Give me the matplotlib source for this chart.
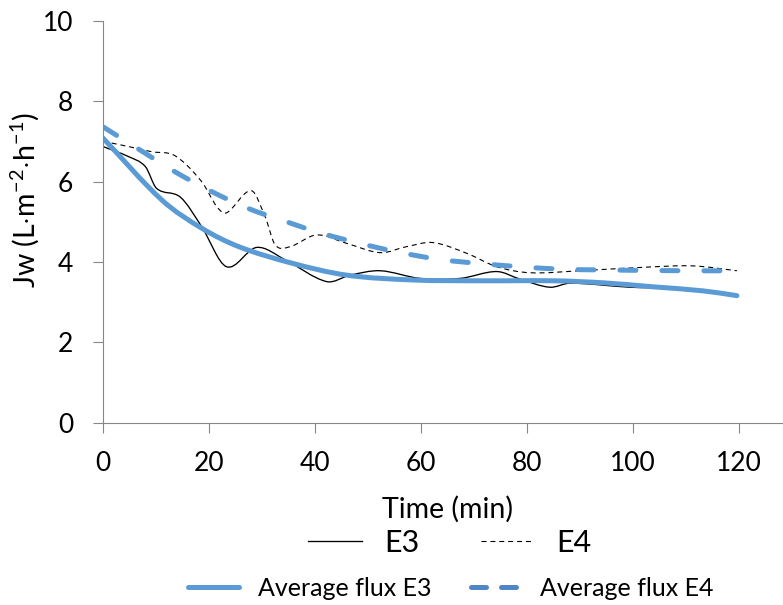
import numpy as np
import matplotlib
matplotlib.use('Agg')
import matplotlib.pyplot as plt
from matplotlib.path import Path
from matplotlib.patches import PathPatch
from matplotlib.lines import Line2D

plt.rcParams['font.family'] = ['Lato', 'DejaVu Sans']
plt.rcParams['mathtext.fontset'] = 'custom'
plt.rcParams['mathtext.rm'] = 'Lato'
plt.rcParams['mathtext.it'] = 'Lato'

# data
t_e3 = [0, 4.8, 8, 10.1, 14.6, 18.6, 23.3, 29, 34.4, 42.2, 46.6, 52.3, 59.8,
        67.4, 74.3, 78.7, 84.3, 88.1, 99.4, 107, 119.6]
jw_e3 = [6.87, 6.62, 6.37, 5.83, 5.61, 4.88, 3.88, 4.36, 4.05, 3.51, 3.67, 3.78,
         3.59, 3.59, 3.76, 3.57, 3.37, 3.47, 3.37, 3.34, 3.16]

t_e4 = [0, 4.8, 9.2, 13.6, 18.6, 21.5, 23.3, 28, 30.6, 32.5, 35.3, 40.3, 46,
        52.3, 57.3, 62.3, 68.7, 74.3, 80.6, 90, 102.6, 111.4, 119.6]
jw_e4 = [7.0, 6.87, 6.74, 6.64, 6.0, 5.37, 5.22, 5.77, 5.12, 4.42, 4.38, 4.67, 4.46,
         4.23, 4.38, 4.48, 4.21, 3.88, 3.73, 3.78, 3.87, 3.9, 3.78]

t_avg3 = [0, 11.1, 18.6, 25.6, 35.6, 46, 58.5, 71.1, 85, 94.4, 103.8, 113.2, 119.6]
jw_avg3 = [7.08, 5.54, 4.84, 4.38, 3.97, 3.67, 3.55, 3.53, 3.53, 3.48, 3.38, 3.28, 3.16]

t_avg4 = [0, 8, 13.6, 20.5, 27.4, 34.6, 41.3, 48.5, 55.4, 63.6, 71.1, 78.7, 86.3,
          94.4, 110, 119.6]
jw_avg4 = [7.36, 6.7, 6.24, 5.75, 5.33, 5.0, 4.71, 4.46, 4.25, 4.06, 3.96, 3.88,
           3.82, 3.8, 3.78, 3.78]

blue = '#5b9bd5'


def smooth_path(x, y):
    # cubic Hermite through the points, drawn as Bezier segments (like Excel's smoothed line)
    x = np.asarray(x, float)
    y = np.asarray(y, float)
    n = len(x)
    m = np.zeros(n)
    m[0] = (y[1] - y[0]) / (x[1] - x[0])
    m[-1] = (y[-1] - y[-2]) / (x[-1] - x[-2])
    m[1:-1] = (y[2:] - y[:-2]) / (x[2:] - x[:-2])
    verts = [(x[0], y[0])]
    codes = [Path.MOVETO]
    for i in range(n - 1):
        h = x[i + 1] - x[i]
        verts += [(x[i] + h / 3, y[i] + m[i] * h / 3),
                  (x[i + 1] - h / 3, y[i + 1] - m[i + 1] * h / 3),
                  (x[i + 1], y[i + 1])]
        codes += [Path.CURVE4] * 3
    return Path(verts, codes)


fig = plt.figure(figsize=(7.83, 6.05), dpi=100)
ax = fig.add_axes([103 / 783, 1 - 422.7 / 605, 680 / 783, 402 / 605])

ax.add_patch(PathPatch(smooth_path(t_e3, jw_e3), fill=False, color='black', lw=0.95))
ax.add_patch(PathPatch(smooth_path(t_e4, jw_e4), fill=False, color='black', lw=0.8,
                       linestyle=(0, (4.5, 3.5))))
ax.add_patch(PathPatch(smooth_path(t_avg3, jw_avg3), fill=False, color=blue, lw=3.6,
                       capstyle='round', joinstyle='round'))
ax.add_patch(PathPatch(smooth_path(t_avg4, jw_avg4), fill=False, color=blue, lw=3.6,
                       linestyle=(0, (3.2, 5.2)), capstyle='round'))

ax.set_xlim(0, 680 / 5.3)
ax.set_ylim(0, 10)
ax.set_xticks(range(0, 121, 20))
ax.set_yticks(range(0, 11, 2))
for s in ['top', 'right']:
    ax.spines[s].set_visible(False)
for s in ['left', 'bottom']:
    ax.spines[s].set_color('#868686')
    ax.spines[s].set_linewidth(0.8)
ax.tick_params(axis='both', direction='out', length=7.5, width=0.8, color='#868686',
               labelsize=19, labelcolor='black')
ax.tick_params(axis='y', pad=14)
ax.tick_params(axis='x', pad=13)
ax.set_xlabel('Time (min)', fontsize=20.5)
ax.xaxis.set_label_coords((448 - 103) / 680, -0.183)
ax.set_ylabel(r'Jw (L$\cdot$m$^{-2}$$\cdot$h$^{-1}$)', fontsize=20.5, va='center')
ax.yaxis.set_label_coords((25 - 103) / 680, (422.7 - 200) / 402)

h1 = [Line2D([], [], color='black', lw=0.95),
      Line2D([], [], color='black', lw=0.8, linestyle=(0, (4.5, 3.5)))]
leg1 = fig.legend(h1, ['E3', 'E4'], loc='center', ncol=2, frameon=False, fontsize=22,
                  bbox_to_anchor=(450 / 783, 1 - 543 / 605), handlelength=1.76,
                  handletextpad=0.72, columnspacing=2.0, borderpad=0)
h2 = [Line2D([], [], color=blue, lw=3.6, solid_capstyle='round'),
      Line2D([], [], color='#4f86c6', lw=3.6, linestyle=(0, (3.0, 3.0)),
             dash_capstyle='round')]
leg2 = fig.legend(h2, ['Average flux E3', 'Average flux E4'], loc='center', ncol=2,
                  frameon=False, fontsize=18, bbox_to_anchor=(451 / 783, 1 - 588 / 605),
                  handlelength=2.04, handletextpad=0.76, columnspacing=1.56, borderpad=0)

fig.savefig('out.png', dpi=100)
